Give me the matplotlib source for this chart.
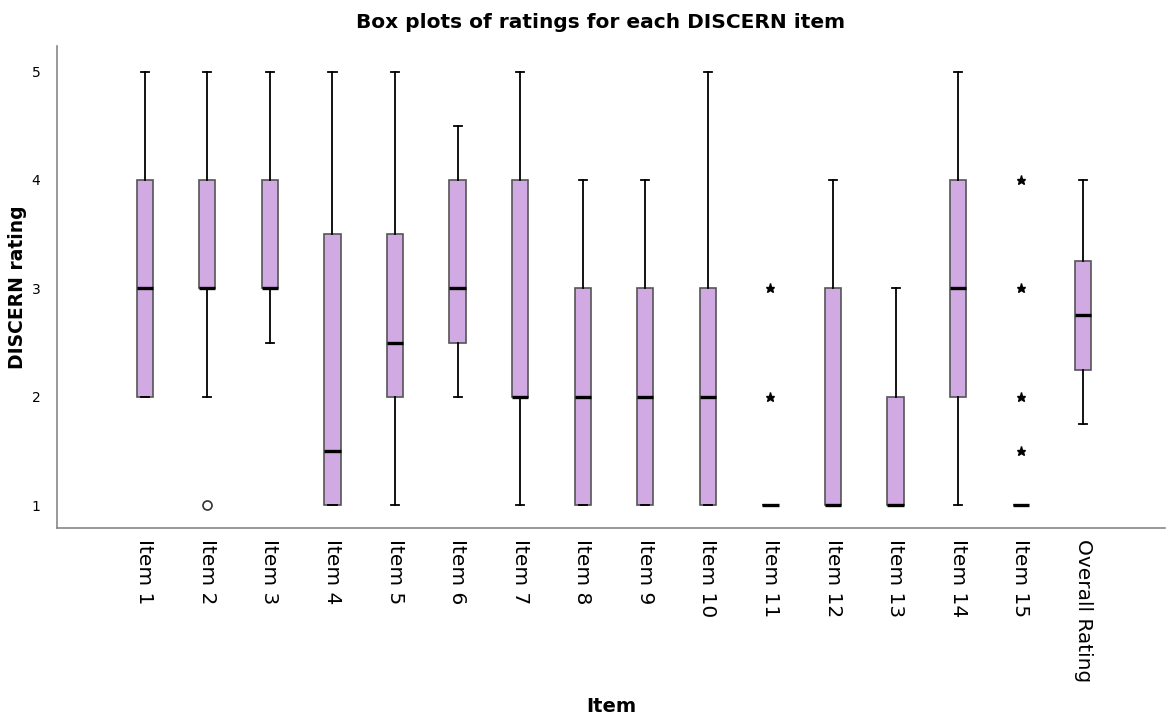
import matplotlib.pyplot as plt

# Summary statistics (SPSS-style box plots)
labels = ["Item 1", "Item 2", "Item 3", "Item 4", "Item 5", "Item 6", "Item 7",
          "Item 8", "Item 9", "Item 10", "Item 11", "Item 12", "Item 13",
          "Item 14", "Item 15", "Overall Rating"]
q1      = [2, 3, 3,   1,   2,   2.5, 2, 1, 1, 1, 1, 1, 1, 2, 1, 2.25]
median  = [3, 3, 3,   1.5, 2.5, 3,   2, 2, 2, 2, 1, 1, 1, 3, 1, 2.75]
q3      = [4, 4, 4,   3.5, 3.5, 4,   4, 3, 3, 3, 1, 3, 2, 4, 1, 3.25]
whis_lo = [2, 2, 2.5, 1,   1,   2,   1, 1, 1, 1, 1, 1, 1, 1, 1, 1.75]
whis_hi = [5, 5, 5,   5,   5,   4.5, 5, 4, 4, 5, 1, 4, 3, 5, 1, 4]

# outliers (circles) and extreme values (stars): (item index, value)
outliers = [(1, 1)]
extremes = [(10, 2), (10, 3), (14, 1.5), (14, 2), (14, 3), (14, 4)]

BOX_COLOR = "#D2AAE3"

stats = []
for i, lab in enumerate(labels):
    stats.append({"label": lab, "q1": q1[i], "med": median[i], "q3": q3[i],
                  "whislo": whis_lo[i], "whishi": whis_hi[i], "fliers": []})

fig = plt.figure(figsize=(11.67, 7.24), dpi=100)
ax = fig.add_axes([0.049, 0.271, 0.949, 0.666])

positions = list(range(len(labels)))
ax.bxp(stats, positions=positions, widths=0.26, patch_artist=True, showfliers=False,
       boxprops=dict(facecolor=BOX_COLOR, edgecolor="#555555", linewidth=1.2),
       medianprops=dict(color="black", linewidth=2.4),
       whiskerprops=dict(color="black", linewidth=1.3),
       capprops=dict(color="black", linewidth=1.3),
       capwidths=0.13)

ax.plot([positions[i] for i, v in outliers], [v for i, v in outliers], "o",
        mfc="white", mec="#333333", ms=6.5, mew=1.2, linestyle="none")
ax.plot([positions[i] for i, v in extremes], [v for i, v in extremes], "*",
        color="black", ms=6.5, linestyle="none")

ax.set_xlim(-1.4, 16.3)
ax.set_ylim(0.79, 5.24)
ax.set_yticks([1, 2, 3, 4, 5])
ax.set_xticks(positions)
ax.set_xticklabels(labels, rotation=270, fontsize=14.5)
ax.tick_params(axis="both", length=0)
ax.tick_params(axis="y", labelsize=10, pad=12)
ax.tick_params(axis="x", pad=8)

for side in ["top", "right"]:
    ax.spines[side].set_visible(False)
for side in ["left", "bottom"]:
    ax.spines[side].set_color("#888888")
    ax.spines[side].set_linewidth(1.2)

ax.set_ylabel("DISCERN rating", fontsize=13.5, fontweight="bold", labelpad=3)
fig.text(0.524, 0.017, "Item", fontsize=14, fontweight="bold", ha="center")
fig.text(0.515, 0.962, "Box plots of ratings for each DISCERN item",
         fontsize=14.5, fontweight="bold", ha="center")

fig.savefig("out.png", dpi=100)
